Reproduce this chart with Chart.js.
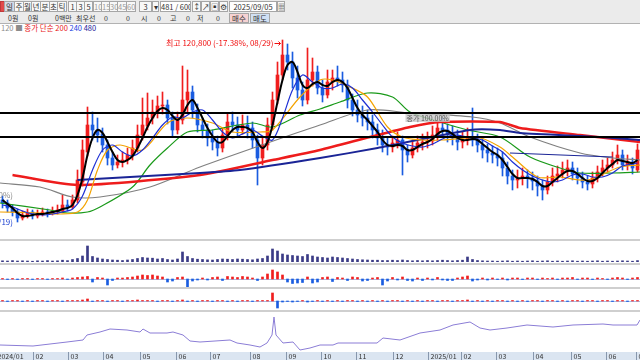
<!DOCTYPE html>
<html>
<head>
<meta charset="utf-8">
<script src="https://cdn.jsdelivr.net/npm/chart.js@4.4.1/dist/chart.umd.min.js"></script>
<style>
  body { margin: 0; width: 640px; height: 360px; overflow: hidden; background: #fff; position: relative;
         font-family: "Noto Sans CJK KR", "Noto Sans", sans-serif; }
  #tb { position: absolute; left: 0; top: 0; width: 640px; height: 23px; background: #ebebeb; border-bottom: 1px solid #b2b2b2; }
  .b { position: absolute; top: 1px; height: 11px; line-height: 10px; font-size: 7.5px; text-align: center; background: #f8f8f8;
       border: 1px solid #a6a6a6; box-sizing: border-box; color: #333; white-space: nowrap; overflow: hidden; }
  .g { color: #9a9a9a; }
  .t { position: absolute; top: 13px; height: 10px; line-height: 10px; font-size: 7px; color: #333; white-space: nowrap; }
  #legend { position: absolute; left: 1px; top: 23px; font-size: 7.5px; line-height: 9px; white-space: nowrap; }
  canvas { position: absolute; left: 0; }
  .sep { position: absolute; left: 0; width: 640px; height: 2px; background: #cfcfcf; }
</style>
</head>
<body>
<div id="tb">
  <div class="b" style="left:0;width:5px;background:#e24a4a;border-color:#c03a3a"></div>
  <div class="b" style="left:4px;width:11px;background:#d3d9e6">일</div>
  <div class="b" style="left:14px;width:10px">주</div>
  <div class="b" style="left:23px;width:9px">월</div>
  <div class="b" style="left:31px;width:10px">년</div>
  <div class="b" style="left:40px;width:10px">분</div>
  <div class="b" style="left:49px;width:9px">초</div>
  <div class="b" style="left:57px;width:10px">틱</div>
  <div class="b" style="left:68px;width:9px">1</div>
  <div class="b" style="left:76px;width:9px">3</div>
  <div class="b" style="left:84px;width:9px">5</div>
  <div class="b g" style="left:93px;width:9px">10</div>
  <div class="b g" style="left:101px;width:9px">15</div>
  <div class="b g" style="left:109px;width:9px">30</div>
  <div class="b g" style="left:117px;width:10px">45</div>
  <div class="b g" style="left:126px;width:10px">60</div>
  <div class="b" style="left:139px;width:13px">3</div>
  <div class="b" style="left:152px;width:7px">▾</div>
  <div class="b" style="left:160px;width:31px;background:#fff">481 / 600</div>
  <div class="b" style="left:192px;width:9px">↕</div>
  <div class="b" style="left:201px;width:9px">↗</div>
  <div class="b" style="left:210px;width:9px">▣</div>
  <div class="b" style="left:219px;width:9px">⚙</div>
  <div class="b" style="left:229px;width:48px;background:#fff">2025/09/05</div>
  <div class="b" style="left:277px;width:8px">▦</div>
  <div class="t" style="left:8px">0원</div>
  <div class="t" style="left:28px">0원</div>
  <div class="t" style="left:55px">0백만</div>
  <div class="t" style="left:76px">최우선</div>
  <div class="t" style="left:104px">0</div>
  <div class="t" style="left:126px">0</div>
  <div class="t" style="left:141px">시</div>
  <div class="t" style="left:157px">0</div>
  <div class="t" style="left:170px">고</div>
  <div class="t" style="left:186px">0</div>
  <div class="t" style="left:197px">저</div>
  <div class="t" style="left:216px">0</div>
  <div class="b" style="left:229px;top:13px;width:20px;height:10px;line-height:9px;background:#f6d2d2">매수</div>
  <div class="b" style="left:250px;top:13px;width:20px;height:10px;line-height:9px;background:#d0e0f4">매도</div>
</div>
<div id="legend"><span style="color:#8c8c8c">120 ■ </span><span style="color:#e82020">종가 단순 200</span> <span style="color:#2040e0">240</span> <span style="color:#20209a">480</span></div>

<canvas id="main" width="640" height="207" style="top:31px"></canvas>
<div class="sep" style="top:239px"></div>
<canvas id="vol" width="640" height="21" style="top:241px"></canvas>
<div class="sep" style="top:263px"></div>
<canvas id="net" width="640" height="22" style="top:265px"></canvas>
<div class="sep" style="top:287px"></div>
<canvas id="prog" width="640" height="21" style="top:289px"></canvas>
<div class="sep" style="top:310px"></div>
<canvas id="hold" width="640" height="48" style="top:312px"></canvas>

<script>
// 3-trading-day periods, 2024/01 .. 2025/06, prices in won
const opens = [
  88800, 88200, 87200, 86400, 85200, 85800, 86400, 85600, 86000, 86400,
  86200, 86600, 86600, 87800, 87400, 88800, 92400, 98400, 103800, 102800,
  102000, 99800, 97200, 95800, 96400, 96800, 97800, 99200, 101800, 103600,
  105200, 106400, 107600, 107800, 105200, 102800, 104800, 108800, 110400, 106800,
  103800, 102800, 101200, 100400, 99200, 101800, 104400, 103800, 102800, 103800,
  103200, 100800, 97200, 99800, 103800, 108800, 113800, 117800, 116400, 113200,
  110800, 108800, 112800, 114400, 111200, 109800, 112400, 113200, 112800, 111800,
  108800, 106800, 105800, 105200, 104400, 102800, 101200, 99800, 99400, 100200,
  100800, 98800, 97800, 99200, 100200, 100400, 100600, 101800, 103200, 102800,
  102000, 101200, 100400, 100800, 101400, 100800, 99800, 98800, 98200, 97800,
  97200, 95200, 93600, 92800, 93200, 93600, 93200, 92600, 91600, 90800,
  92400, 93600, 94000, 94800, 95200, 94000, 93200, 92400, 92000, 93200,
  94400, 95200, 95800, 96800, 97800, 95800, 96400, 94800,
];
const closes = [
  88200, 87200, 86400, 85200, 85800, 86200, 85600, 86000, 86400, 86200,
  86600, 86800, 87800, 87400, 88800, 92800, 98800, 103800, 102800, 101800,
  99800, 97200, 95800, 96400, 96800, 97800, 99200, 101800, 103800, 105200,
  106400, 107600, 107800, 105200, 102800, 104800, 108800, 110400, 106800, 103800,
  102800, 101200, 100400, 99200, 101800, 104400, 103800, 102800, 103800, 103200,
  100800, 97200, 99800, 103800, 108800, 113800, 117800, 116400, 113200, 110800,
  108800, 112800, 114400, 111200, 109800, 112400, 113200, 112800, 111800, 108800,
  106800, 105800, 105200, 104400, 102800, 101200, 99800, 99400, 100200, 100800,
  98800, 97800, 99200, 100200, 100400, 100600, 101800, 103200, 102800, 102000,
  101200, 100400, 100800, 101400, 100800, 99800, 98800, 98200, 97800, 97200,
  95200, 93600, 92800, 93200, 93600, 93200, 92600, 91600, 90800, 92400,
  93600, 94000, 94800, 95200, 94000, 93200, 92400, 92000, 93200, 94400,
  95200, 95800, 96800, 97800, 95800, 96400, 95200, 98800,
];
const highs = [
  89600, 88800, 87800, 87000, 86600, 87000, 86800, 86800, 87200, 87000,
  87400, 87800, 89800, 88800, 89800, 94800, 100800, 107400, 106400, 105200,
  103200, 100800, 98400, 97800, 98400, 99200, 100800, 103800, 109200, 110200,
  108800, 109600, 110400, 108800, 106400, 106400, 115600, 114800, 111600, 108000,
  105200, 104000, 102800, 101600, 103200, 106000, 106400, 105400, 105800, 105600,
  104400, 101800, 101200, 105200, 110400, 116400, 120800, 120000, 118400, 115600,
  112400, 119200, 117200, 115600, 112800, 114800, 114800, 115600, 114400, 112800,
  110000, 108800, 107600, 106800, 105800, 104000, 102800, 101200, 101600, 102400,
  101600, 99800, 100800, 101600, 102000, 102400, 103600, 104800, 105200, 104000,
  103600, 102800, 102400, 103200, 107200, 102000, 101200, 100000, 99600, 99200,
  98400, 96400, 94800, 94800, 95200, 94800, 94400, 93600, 92800, 93600,
  95200, 95600, 96400, 96800, 96400, 95200, 94400, 93600, 94400, 95600,
  96800, 97200, 98400, 99800, 98800, 97800, 97200, 100000,
];
const lows = [
  87200, 86400, 85600, 84400, 84800, 85200, 85000, 85200, 85600, 85400,
  85800, 86000, 86400, 86600, 87000, 88200, 91600, 97600, 100800, 100400,
  98400, 95800, 94800, 95200, 95400, 96000, 96800, 98400, 100800, 102800,
  104000, 105200, 106000, 104000, 101600, 102000, 104000, 106400, 105200, 102400,
  101200, 99600, 98800, 97600, 98400, 100800, 102400, 101600, 102000, 101200,
  99200, 91800, 95800, 98800, 102800, 108000, 112800, 114800, 111200, 109200,
  107600, 108000, 111600, 110000, 108400, 109200, 110800, 111600, 110400, 107200,
  105600, 104400, 103600, 102800, 101200, 99800, 98400, 97800, 98400, 99200,
  93800, 96400, 97200, 98400, 98800, 99200, 99800, 100800, 101600, 100400,
  99800, 98800, 99200, 99800, 99600, 98400, 97200, 96400, 96200, 95600,
  93600, 92000, 90800, 91200, 91800, 91200, 90800, 89600, 88800, 90000,
  91600, 92400, 93200, 93600, 92800, 92000, 91200, 90800, 91200, 92400,
  93600, 94400, 95200, 96000, 94800, 94800, 94000, 94400,
];

// moving averages (black one per period, the rest at sampled periods)
const ma5 = [
  88800, 88000, 87200, 86200, 85600, 85600, 85800, 86000, 86000, 86200,
  86400, 86600, 87000, 87200, 87800, 89800, 93200, 97800, 101200, 102800,
  102200, 100400, 98400, 96800, 96400, 96800, 97600, 99200, 101200, 103400,
  105200, 106600, 107200, 106800, 105600, 104800, 105800, 107800, 108800, 107200,
  105200, 103200, 101600, 100400, 100400, 101600, 102800, 103400, 103400, 103200,
  102400, 100400, 99200, 100400, 103800, 108400, 112800, 115800, 116400, 114400,
  111800, 111200, 112000, 112400, 111800, 111600, 112400, 112800, 112400, 111200,
  109200, 107200, 105800, 104800, 103600, 102400, 100800, 99800, 99600, 99800,
  99600, 98800, 98800, 99400, 100000, 100400, 101000, 102000, 102600, 102600,
  102000, 101200, 100800, 100800, 101000, 100800, 100000, 99200, 98400, 97800,
  96800, 95400, 94000, 93200, 93200, 93200, 93000, 92400, 91600, 91600,
  92400, 93200, 94000, 94600, 94600, 94000, 93200, 92600, 92600, 93200,
  94200, 95200, 96000, 96800, 96600, 96400, 96200, 96800,
];
const ma10Idx = [
  0, 2, 4, 6, 8, 10, 12, 14, 16, 18, 20, 22, 24, 26, 28, 30, 32, 34, 36, 38,
  40, 42, 44, 46, 48, 50, 52, 54, 56, 58, 60, 62, 64, 66, 68, 70, 72, 74, 76, 78,
  80, 82, 84, 86, 88, 90, 92, 94, 96, 98, 100, 102, 104, 106, 108, 110, 112, 114, 116, 118,
  120, 122, 124, 126, 127,
];
const ma10 = [
  87800, 87400, 86600, 86000, 85800, 86000, 86400, 87000, 89600, 94800,
  98800, 99800, 98400, 97600, 98800, 101200, 103800, 105400, 105200, 106400,
  106800, 104800, 102400, 101200, 102000, 102800, 101600, 100800, 105200, 110800,
  113800, 112400, 111200, 111200, 112000, 111200, 108800, 106400, 103800, 101400,
  100200, 99600, 99400, 100000, 101000, 101800, 101600, 101200, 100800, 99600,
  98400, 96400, 94800, 93600, 92800, 92400, 92800, 93800, 94000, 93400,
  93400, 94200, 95600, 96000, 96200,
];
const ma20Idx = [-0.5, 7.5, 11.5, 15, 17, 19, 21, 23.5, 28, 33, 37, 42, 46, 51.5, 54, 59.5,
  63.5, 66, 69.5, 73, 77, 80, 84, 88, 95.5, 99.5, 102, 107, 111.5, 117, 123.5, 127.5];
const ma20 = [86400, 86200, 86000, 86400, 88800, 94800, 98800, 99800, 98800, 104200, 105200, 104200, 102400, 102400, 102800, 109400,
  112800, 112800, 111400, 109400, 103400, 101400, 100800, 100800, 101200, 99400, 97400, 93400, 93400, 92800, 95400, 95800];
const ma60Idx = [-0.5, 9.5, 13, 17, 19.5, 26, 29.5, 33, 37, 42, 50, 54, 59.5, 63.5, 67.5, 73, 78, 81.5, 87.5, 93, 99.5, 105.5, 111.5, 115.5, 122, 127.5];
const ma60 = [88200, 86800, 86200, 86400, 87400, 91400, 95800, 99200, 102400, 102800, 104200, 103400, 105800, 107000, 108400, 110200,
  109400, 106400, 104400, 102800, 101400, 97400, 95200, 94200, 94200, 94400];
const ma120Idx = [-0.5, 7.5, 14, 19.5, 29.5, 39.5, 53, 63.5, 73, 81.5, 94, 99.5, 105.5, 115.5, 122, 127.5];
const ma120 = [92200, 91400, 89400, 89400, 91400, 95400, 100200, 103800, 106800, 106200, 105400, 104200, 101400, 98200, 97200, 96800];
const ma200Idx = [2, 15, 39.5, 54, 63.5, 73.5, 81.5, 87.5, 99.5, 103.5, 115.5, 127.5];
const ma200 = [93800, 91800, 93800, 96800, 98800, 101400, 103400, 104400, 104400, 103200, 101800, 100400];
const ma240Idx = [15, 39.5, 47.5, 63.5, 75, 93.5, 99.5, 103.5, 119.5, 127.5];
const ma240 = [92800, 94200, 94800, 97200, 99200, 102800, 102800, 102200, 101400, 100800];
const ma480Idx = [101.5, 122];
const ma480 = [98200, 97400];

const levelLines = [106200, 101400];

const volumes = [
  12, 10, 14, 10, 12, 10, 8, 12, 10, 14, 10, 12, 18, 14,
  25, 35, 60, 160, 55, 40, 30, 25, 20, 18,
  15, 20, 25, 35, 45, 40, 38, 30, 35, 25,
  20, 30, 100, 55, 35, 28, 25, 22, 20, 25,
  30, 28, 25, 30, 28, 25, 22, 30, 35, 60,
  130, 110, 80, 70, 65, 60, 55, 75, 60, 50,
  45, 40, 50, 45, 40, 35, 30, 25, 22, 20,
  18, 18, 15, 15, 18, 15, 20, 15, 12, 15,
  12, 15, 12, 15, 18, 15, 12, 15, 18, 50,
  25, 15, 12, 10, 10, 8, 10, 12, 8, 10,
  8, 10, 12, 8, 10, 12, 8, 10, 8, 10,
  12, 8, 10, 8, 10, 12, 8, 10, 8, 10,
  12, 10, 8, 14,
];
const netBuy = [
  5, -5, 5, -5, 5, 5, -5, 5, 5, -5, 5, 5, 10, -5, 10, 15, 20,
  25, -30, 15, 10, -60, -15, 10, 10, 15, 20,
  30, 40, 35, 40, 30, 20, -30, -20, 15, 20,
  -80, -20, -10, 10, -10, 15, 20, -15, 25, 20,
  15, 25, 20, 10, -15, 20, 50, 90, 70, 40,
  -30, -45, -40, -35, 20, -40, -30, 15, 20, -25,
  15, 10, -15, 20, 15, -20, -15, 10, 15, -60,
  -20, 15, -10, 20, -15, -20, 10, -15, 10, -10,
  15, -10, -15, -15, 10, 20, 30, -20, -10, 10,
  -10, 10, -5, 10, -10, 10, 10, -5, 10, 10,
  -5, 10, 5, 10, -5, 10, 10, 15, -5, 10,
  10, -5, 10, 5, -5, 10, 15, 10, -5, 10, 15,
];
const program = [
  5, -5, 5, 5, -5, 5, -5, 5, 5, -5, 5, 5, -5, 5, 5, 5, 10, 20, -5, 5,
  5, -5, 5, 5, -5, 5, 5, 10, 5, 5, 5, -5, 5, 5, -5, 5, 10, -5, 5, -5,
  5, 5, -5, 5, 5, -5, 5, -5, 5, 5, -5, 5, 5, 5, 80, -70, -10, -5, -10, -5,
  5, -10, -5, 5, -5, 5, -5, 5, -5, 5, 5, -5, 5, -5, 5, -5, 5, -5, 5, 5,
  -5, 5, -5, 5, -5, 5, 5, -5, 5, 5, -5, 5, 5, 10, -5, 5, -5, 5, -5, 5,
  5, -5, 5, -5, 5, -5, 5, 5, -5, 5, 5, -5, 5, -5, 5, 5, -5, 5, 5, -5,
  5, 5, -5, 5, 5, -5, 5, 5,
];
const holdIdx = [-0.5, 6.1, 12.9, 16.1, 16.9, 19.5, 21.5, 24.9, 27.5, 28.1, 29.5, 32.9, 34.1, 36.1, 37.5,
  39.5, 45.5, 46.9, 49.5, 51.5, 52.9, 53.9, 54.3, 54.7, 56.1, 58.1, 59.5, 61.5, 63.5, 66.1,
  67.1, 70.1, 74.9, 76.1, 79.5, 83.5, 87.5, 90.1, 93.5, 95.5, 97.5, 100.9, 104.9, 110.1, 114.1,
  120.1, 122.1, 126.9, 127.5];
const holdRate = [7.5, 7, 9, 10, 12.5, 14, 15.5, 15, 14, 15.5, 13.5, 13.5, 14, 12.5, 9.5,
  9, 10, 8.5, 7.5, 6.5, 8.5, 12.5, 21.5, 12.5, 8.5, 9, 5, 6, 7.5, 7.5,
  8.5, 8.5, 8.5, 11, 10, 13.5, 15, 17.5, 19, 16, 15, 16, 17.5, 16.5, 17.5,
  18, 17.5, 17.5, 20];

const monthPos = [-1.5, 6.1, 13.1, 20.1, 27.5, 34.7, 41.5, 49.5, 56.7, 63.7, 70.7, 78.1, 85.1, 91.7, 98.7, 106.1, 113.7, 120.7, 126.7];
const monthLabels = ['2024/01', '02', '03', '04', '05', '06', '07', '08', '09', '10', '11', '12',
  '2025/01', '02', '03', '04', '05', '06', '07'];

const UP = '#f01e1e';
const DOWN = '#1a5ce0';
const FONT = '"Noto Sans CJK KR", "Noto Sans", sans-serif';

const pts = (xs, ys) => xs.map((x, i) => ({ x, y: ys[i] }));
const line = (data, color, width, order, tension = 0) => ({
  type: 'line', data, borderColor: color, borderWidth: width, pointRadius: 0, tension, order, fill: false,
});
const xAxis = () => ({ type: 'linear', min: -0.5, max: 127.5, offset: false, display: false });
const base = (yMin, yMax, padBottom = 0) => ({
  responsive: false,
  animation: false,
  devicePixelRatio: 1,
  layout: { padding: { left: 0, right: 0, top: 0, bottom: padBottom } },
  plugins: { legend: { display: false }, tooltip: { enabled: false } },
  scales: { x: xAxis(), y: { display: false, min: yMin, max: yMax } },
});

const candleColor = (ctx) => (closes[ctx.dataIndex] >= opens[ctx.dataIndex] ? UP : DOWN);

const overlay = {
  id: 'overlay',
  afterDatasetsDraw(chart) {
    const { ctx, scales: { x, y } } = chart;
    ctx.save();
    ctx.strokeStyle = '#000';
    ctx.lineWidth = 2;
    levelLines.forEach((v) => {
      const py = Math.round(y.getPixelForValue(v));
      ctx.beginPath();
      ctx.moveTo(0, py);
      ctx.lineTo(chart.width, py);
      ctx.stroke();
    });

    ctx.font = `8px ${FONT}`;
    ctx.textBaseline = 'middle';

    const hi = highs.indexOf(Math.max(...highs));
    const hx = x.getPixelForValue(hi);
    const hy = y.getPixelForValue(highs[hi]) + 3;
    ctx.fillStyle = '#f01010';
    ctx.strokeStyle = '#f01010';
    ctx.lineWidth = 1;
    ctx.textAlign = 'right';
    ctx.fillText('최고 120,800 (-17.38%, 08/29)', hx - 9, hy);
    ctx.beginPath();
    ctx.moveTo(hx - 8, hy + 0.5);
    ctx.lineTo(hx - 2, hy + 0.5);
    ctx.moveTo(hx - 4, hy - 1.5);
    ctx.lineTo(hx - 2, hy + 0.5);
    ctx.lineTo(hx - 4, hy + 2.5);
    ctx.stroke();

    const lo = lows.indexOf(Math.min(...lows));
    const ly = y.getPixelForValue(lows[lo]);
    ctx.fillStyle = '#1a3fd0';
    ctx.fillText('최저 84,400 (+17.06%, 01/19)', 13, ly);
    ctx.fillStyle = '#8a8a8a';
    ctx.fillText('기준 88,800 (100.00%)', 13, y.getPixelForValue(closes[0]) - 8);

    const rx = x.getPixelForValue(81) - 1;
    const ry = y.getPixelForValue(105200);
    ctx.font = `7px ${FONT}`;
    ctx.textAlign = 'left';
    const w = ctx.measureText('종가 100.00%').width;
    ctx.fillStyle = 'rgba(200,200,200,0.8)';
    ctx.fillRect(rx - 1, ry - 4, w + 2, 8);
    ctx.fillStyle = '#555';
    ctx.fillText('종가 100.00%', rx, ry);
    ctx.restore();
  },
};

const zeroLine = {
  id: 'zeroLine',
  beforeDatasetsDraw(chart) {
    const { ctx, scales: { y } } = chart;
    const py = Math.round(y.getPixelForValue(0)) + 0.5;
    ctx.save();
    ctx.strokeStyle = '#a9bde6';
    ctx.lineWidth = 1;
    ctx.beginPath();
    ctx.moveTo(0, py);
    ctx.lineTo(chart.width, py);
    ctx.stroke();
    ctx.restore();
  },
};

const axisStrip = {
  id: 'axisStrip',
  afterDraw(chart) {
    const { ctx, chartArea, scales: { x } } = chart;
    const top = chartArea.bottom;
    ctx.save();
    ctx.fillStyle = '#dbe5f1';
    ctx.fillRect(0, top, chart.width, chart.height - top);
    ctx.font = `7px ${FONT}`;
    ctx.textAlign = 'left';
    ctx.textBaseline = 'middle';
    monthPos.forEach((p, i) => {
      const px = Math.round(x.getPixelForValue(p)) + 0.5;
      ctx.strokeStyle = '#8797ad';
      ctx.lineWidth = 1;
      ctx.beginPath();
      ctx.moveTo(px, top);
      ctx.lineTo(px, chart.height);
      ctx.stroke();
      ctx.fillStyle = '#333';
      ctx.fillText(monthLabels[i], px + 2, top + 4.5);
    });
    ctx.restore();
  },
};

new Chart(document.getElementById('main'), {
  type: 'bar',
  data: {
    datasets: [
      line(ma5.map((v, i) => ({ x: i, y: v })), '#000000', 2, 1, 0.35),
      line(pts(ma10Idx, ma10), '#1d2fd4', 1.2, 2, 0.3),
      line(pts(ma20Idx, ma20), '#f4a300', 1.2, 3, 0.3),
      line(pts(ma240Idx, ma240), '#1a2496', 2, 4, 0.2),
      line(pts(ma480Idx, ma480), '#1a2496', 1.2, 4),
      line(pts(ma200Idx, ma200), '#ee1c1c', 2.5, 5, 0.2),
      line(pts(ma60Idx, ma60), '#1a9a1a', 1.2, 6, 0.3),
      line(pts(ma120Idx, ma120), '#808080', 1.2, 7, 0.3),
      {
        type: 'bar',
        data: closes.map((c, i) => ({ x: i, y: [opens[i], c] })),
        backgroundColor: candleColor,
        barThickness: 3,
        grouped: false,
        order: 19,
      },
      {
        type: 'bar',
        data: closes.map((c, i) => ({ x: i, y: [lows[i], highs[i]] })),
        backgroundColor: candleColor,
        barThickness: 1,
        grouped: false,
        order: 20,
      },
    ],
  },
  options: base(81200, 122600),
  plugins: [overlay],
});

new Chart(document.getElementById('vol'), {
  type: 'bar',
  data: {
    datasets: [{
      data: volumes.map((v, i) => ({ x: i, y: v })),
      backgroundColor: '#3b3b86',
      barThickness: 2,
    }],
  },
  options: base(0, 210),
});

new Chart(document.getElementById('net'), {
  type: 'bar',
  data: {
    datasets: [{
      data: netBuy.map((v, i) => ({ x: i, y: v })),
      backgroundColor: (ctx) => (netBuy[ctx.dataIndex] >= 0 ? UP : DOWN),
      barThickness: 2,
    }],
  },
  options: base(-80, 140),
  plugins: [zeroLine],
});

new Chart(document.getElementById('prog'), {
  type: 'bar',
  data: {
    datasets: [{
      data: program.map((v, i) => ({ x: i, y: v })),
      backgroundColor: (ctx) => (program[ctx.dataIndex] >= 0 ? UP : DOWN),
      barThickness: 2,
    }],
  },
  options: base(-90, 120),
  plugins: [zeroLine],
});

new Chart(document.getElementById('hold'), {
  type: 'line',
  data: {
    datasets: [line(pts(holdIdx, holdRate), '#8b7dd6', 1, 1)],
  },
  options: base(4, 24, 8),
  plugins: [axisStrip],
});
</script>
</body>
</html>
